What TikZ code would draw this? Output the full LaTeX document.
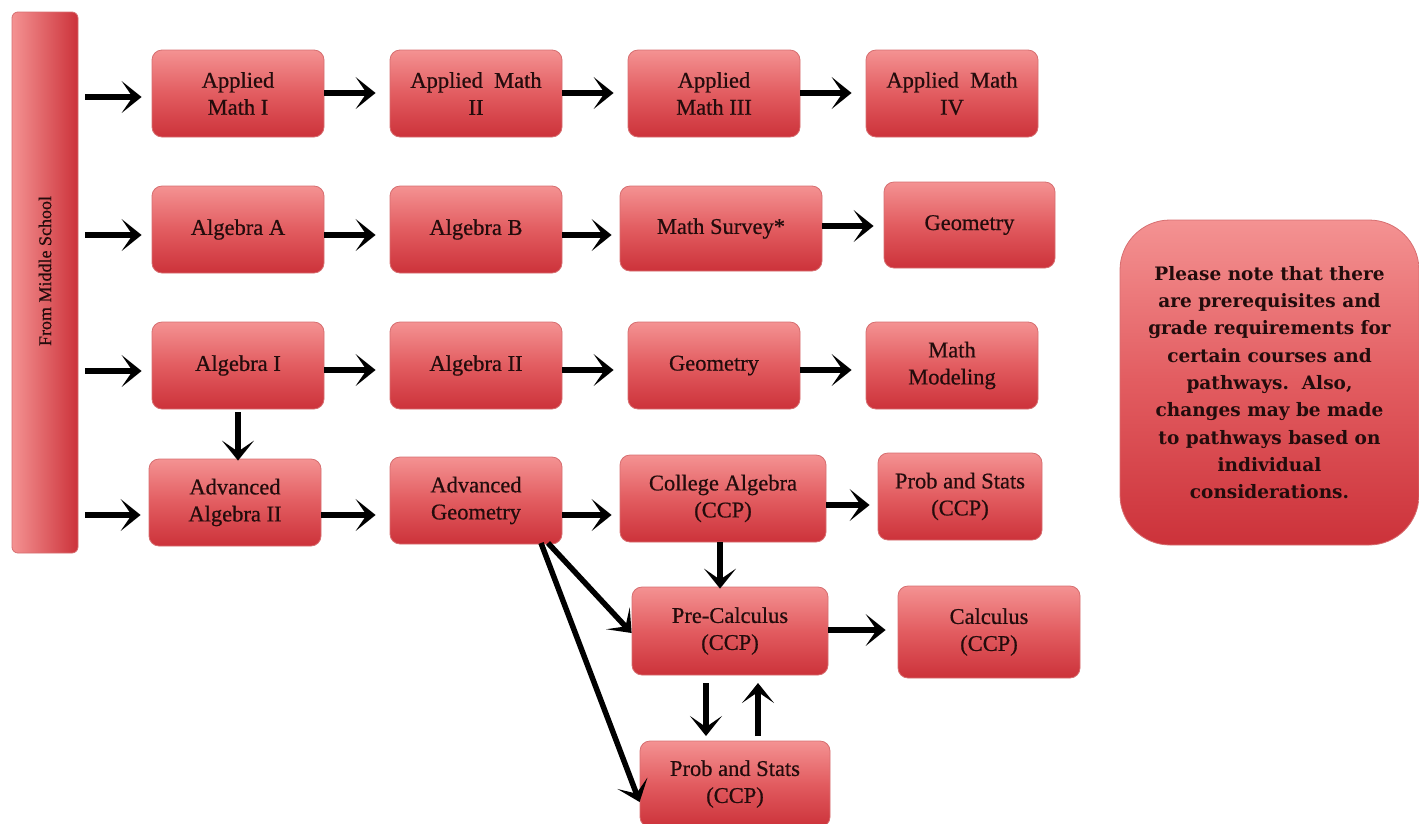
\documentclass[tikz,border=0pt]{standalone}
\usepackage{fontspec}
\setmainfont{Liberation Serif}[FakeBold=0.6]
\newfontfamily\notefont{DejaVu Serif}
\usetikzlibrary{arrows.meta,shadings}
\definecolor{boxtop}{RGB}{244,146,146}
\definecolor{boxmid}{RGB}{226,92,96}
\definecolor{boxbot}{RGB}{204,50,58}
\definecolor{boxedge}{RGB}{214,110,112}
\definecolor{txt}{RGB}{35,12,12}
\tikzset{
  course/.style={rectangle, rounded corners=10pt, draw=boxedge, line width=0.8pt,
    top color=boxtop, bottom color=boxbot, middle color=boxmid,
    align=center, text=txt, font=\fontsize{22.5}{27}\selectfont, inner sep=2pt},
  flow/.style={line width=5.5pt, -{Stealth[length=20pt,width=32pt,inset=11pt]}},
}
\begin{document}
\begin{tikzpicture}[x=1pt,y=-1pt]
\useasboundingbox (0,0) rectangle (1419,823);
% side bar
\node[rectangle, rounded corners=6pt, draw=boxedge, line width=0.8pt,
  left color=boxtop, right color=boxbot, minimum width=66, minimum height=541,
  inner sep=0pt] (bar) at (45,282.5) {};
\node[rotate=90, text=txt, font=\fontsize{18}{18}\selectfont] (bartxt) at (45,271)
  {From Middle School};
% row 1
\node[course, minimum width=172, minimum height=87] (am1) at (238,93.5) {Applied\\Math I};
\node[course, minimum width=172, minimum height=87] (am2) at (476,93.5) {Applied~~Math\\II};
\node[course, minimum width=172, minimum height=87] (am3) at (714,93.5) {Applied\\Math III};
\node[course, minimum width=172, minimum height=87] (am4) at (952,93.5) {Applied~~Math\\IV};
% row 2
\node[course, minimum width=172, minimum height=87] (alga) at (238,229.5) {Algebra A};
\node[course, minimum width=172, minimum height=87] (algb) at (476,229.5) {Algebra B};
\node[course, minimum width=202, minimum height=85] (surv) at (721,228.5) {Math Survey*};
\node[course, minimum width=171, minimum height=86] (geo1) at (969.5,225) {Geometry};
% row 3
\node[course, minimum width=172, minimum height=87] (alg1) at (238,365.5) {Algebra I};
\node[course, minimum width=172, minimum height=87] (alg2) at (476,365.5) {Algebra II};
\node[course, minimum width=172, minimum height=87] (geo2) at (714,365.5) {Geometry};
\node[course, minimum width=172, minimum height=87] (mod) at (952,365.5) {Math\\Modeling};
% row 4
\node[course, minimum width=172, minimum height=87] (aalg) at (235,502.5) {Advanced\\Algebra II};
\node[course, minimum width=172, minimum height=87] (ageo) at (476,500.5) {Advanced\\Geometry};
\node[course, minimum width=206, minimum height=87] (calg) at (723,498.5) {College Algebra\\(CCP)};
\node[course, minimum width=164, minimum height=87] (ps1) at (960,496.5) {Prob and Stats\\(CCP)};
\node[course, minimum width=196, minimum height=88] (prec) at (730,631) {Pre-Calculus\\(CCP)};
\node[course, minimum width=182, minimum height=92] (calc) at (989,632) {Calculus\\(CCP)};
\node[course, minimum width=190, minimum height=86] (ps2) at (735,784) {Prob and Stats\\(CCP)};
% note
\node[rectangle, rounded corners=50pt, draw=boxedge, line width=0.8pt,
  top color=boxtop, bottom color=boxbot, middle color=boxmid,
  minimum width=299, minimum height=325, align=center, text=txt,
  font=\notefont\bfseries\fontsize{18.5}{27.3}\selectfont, inner sep=0pt] (note) at (1269.5,382.5)
  {Please note that there\\are prerequisites and\\grade requirements for\\certain courses and\\pathways.~~Also,\\changes may be made\\to pathways based on\\individual\\considerations.};
% arrows from bar
\coordinate (b1) at (85,97);
\coordinate (b2) at (85,235);
\coordinate (b3) at (85,371);
\coordinate (b4) at (85,515);
\draw[flow] (b1) -- ([xshift=-10pt]b1 -| am1.west);
\draw[flow] (b2) -- ([xshift=-10pt]b2 -| alga.west);
\draw[flow] (b3) -- ([xshift=-10pt]b3 -| alg1.west);
\draw[flow] (b4) -- ([xshift=-8pt]b4 -| aalg.west);
% row arrows
\draw[flow] (am1.east |- 0,93) -- ([xshift=-14pt]am2.west |- 0,93);
\draw[flow] (am2.east |- 0,93) -- ([xshift=-14pt]am3.west |- 0,93);
\draw[flow] (am3.east |- 0,93) -- ([xshift=-14pt]am4.west |- 0,93);
\draw[flow] (alga.east |- 0,235) -- ([xshift=-14pt]algb.west |- 0,235);
\draw[flow] (algb.east |- 0,235) -- ([xshift=-8pt]surv.west |- 0,235);
\draw[flow] (surv.east |- 0,226) -- ([xshift=-10pt]geo1.west |- 0,226);
\draw[flow] (alg1.east |- 0,370) -- ([xshift=-14pt]alg2.west |- 0,370);
\draw[flow] (alg2.east |- 0,370) -- ([xshift=-14pt]geo2.west |- 0,370);
\draw[flow] (geo2.east |- 0,370) -- ([xshift=-14pt]mod.west |- 0,370);
\draw[flow] (alg1.south) ++(0,3) coordinate (a1s) -- ([yshift=-2pt]aalg.north -| a1s);
\draw[flow] (aalg.east |- 0,515) -- ([xshift=-14pt]ageo.west |- 0,515);
\draw[flow] (ageo.east |- 0,515) -- ([xshift=-8pt]calg.west |- 0,515);
\draw[flow] (calg.east |- 0,505) -- ([xshift=-8pt]ps1.west |- 0,505);
\draw[flow] ([xshift=-3pt]calg.south) -- ([yshift=-2pt]prec.north -| 720,0);
\draw[flow] (prec.east |- 0,630) -- ([xshift=-12pt]calc.west |- 0,630);
\coordinate (ag1) at (548,543);
\coordinate (ag2) at (541,543);
\draw[flow] (ag1) -- ([yshift=-2pt]prec.west);
\draw[flow] (ag2) -- ([yshift=-18pt]ps2.west);
\draw[flow] (706,683) -- (706,736);
\draw[flow] (758,736) -- (758,683);
\end{tikzpicture}
\end{document}
